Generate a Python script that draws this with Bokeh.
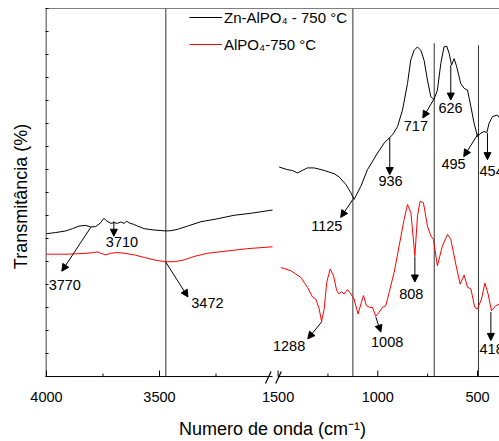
import numpy as np
from bokeh.plotting import figure
from bokeh.models import (FixedTicker, Span, Arrow, NormalHead, Label, Legend,
                          LegendItem, Range1d)
from bokeh.embed import file_html
from bokeh.resources import INLINE

# ---------------- data ----------------
# Zn-AlPO4 - 750 C, high wavenumber window (4000-3000 cm-1)
zn_hi_wn = [4000, 3959, 3915, 3885, 3856, 3826, 3804, 3782, 3760, 3746, 3733, 3715, 3701, 3686,
            3671, 3657, 3645, 3630, 3615, 3597, 3568, 3524, 3472, 3450, 3420, 3376, 3317, 3243,
            3170, 3094, 3000]
zn_hi_t = [6.21, 6.26, 6.33, 6.43, 6.54, 6.57, 6.50, 6.52, 6.69, 6.88, 6.76, 6.66, 6.69, 6.66,
           6.72, 6.66, 6.75, 6.66, 6.62, 6.54, 6.43, 6.37, 6.33, 6.34, 6.40, 6.54, 6.73, 6.86,
           7.01, 7.10, 7.24]
# Zn-AlPO4 - 750 C, low wavenumber window (1500-390 cm-1)
zn_lo_wn = [1495, 1453, 1428, 1403, 1378, 1353, 1319, 1269, 1219, 1194, 1160, 1135, 1119, 1085,
            1052, 1001, 968, 943, 926, 901, 876, 851, 835, 818, 801, 784, 768, 751, 734, 718,
            701, 684, 668, 654, 642, 630, 617, 604, 584, 567, 550, 533, 517, 500, 483, 467,
            453, 442, 425, 400, 388]
zn_lo_t = [9.11, 8.99, 8.96, 8.85, 8.96, 9.07, 9.07, 8.96, 8.82, 8.68, 8.35, 7.99, 7.70, 8.27,
           8.99, 9.72, 10.15, 10.37, 10.51, 10.87, 11.59, 12.74, 13.75, 14.18, 14.33, 14.18,
           13.75, 12.89, 12.16, 12.05, 12.45, 13.61, 14.33, 14.36, 14.04, 13.54, 13.82, 13.46,
           12.74, 12.53, 12.45, 11.73, 11.01, 10.43, 10.58, 10.65, 10.61, 11.01, 11.30, 11.37,
           11.23]
# AlPO4 - 750 C
al_hi_wn = [4000, 3907, 3834, 3789, 3774, 3760, 3738, 3716, 3686, 3657, 3612, 3568, 3524, 3472,
            3435, 3391, 3347, 3288, 3199, 3111, 3000]
al_hi_t = [5.32, 5.32, 5.35, 5.39, 5.42, 5.36, 5.29, 5.36, 5.39, 5.36, 5.29, 5.18, 5.07, 4.99,
           4.99, 5.07, 5.22, 5.36, 5.46, 5.56, 5.64]
al_lo_wn = [1486, 1436, 1386, 1353, 1327, 1311, 1294, 1282, 1269, 1256, 1239, 1222, 1206, 1194,
            1182, 1169, 1152, 1135, 1119, 1099, 1082, 1072, 1057, 1042, 1027, 1010, 993, 976,
            960, 943, 918, 893, 868, 851, 834, 814, 801, 788, 771, 751, 734, 721, 701, 676,
            650, 634, 609, 587, 567, 550, 533, 514, 500, 480, 463, 447, 430, 408, 388]
al_lo_t = [4.74, 4.60, 4.31, 3.88, 3.45, 3.37, 2.94, 2.39, 2.94, 4.10, 4.67, 4.38, 3.73, 3.59,
           3.69, 3.59, 3.78, 3.59, 3.37, 2.72, 3.23, 3.52, 3.08, 3.01, 3.01, 2.62, 2.80, 3.01,
           3.08, 3.66, 4.53, 5.68, 6.83, 7.48, 7.12, 5.25, 6.98, 7.62, 7.55, 6.54, 6.11, 5.97,
           4.81, 5.68, 6.18, 5.97, 4.89, 4.02, 4.41, 3.88, 3.81, 3.01, 2.94, 3.37, 4.06, 3.59,
           2.87, 3.08, 3.16]

# axis ticks
major_ticks_wn = [4000, 3500, 1500, 1000, 500]
major_tick_labels = ["4000", "3500", "1500", "1000", "500"]
minor_ticks_wn = [3750, 3250, 1250, 750]
y_ticks = list(range(0, 17))

# reference lines (wavenumber, top of line)
ref_lines_wn = [3472, 1125, 717, 495]
ref_lines_top = [16.0, 16.0, 14.49, 14.40]

# peak annotations
peak_labels = ["3770", "3710", "3472", "1125", "936", "717", "626", "495", "454", "808",
               "1288", "1008", "418"]
arrow_start_wn = [3804, 3702, 3472, 1125, 940, 719, 634, 494, 450, 814, 1281, 1010, 433]
arrow_start_t = [6.49, 6.75, 4.97, 7.70, 10.38, 12.06, 13.54, 10.59, 10.58, 5.23, 2.38, 2.59, 2.80]
arrow_end_wn = [3932, 3702, 3374, 1186, 940, 774, 634, 569, 450, 814, 1351, 985, 433]
arrow_end_t = [4.58, 6.10, 3.46, 6.92, 8.78, 11.24, 12.02, 9.56, 9.43, 4.11, 1.64, 1.93, 1.57]
label_wn = [3919, 3666, 3288, 1256, 936, 809, 635, 620, 429, 832, 1445, 953, 429]
label_t = [3.98, 5.84, 3.20, 6.56, 8.48, 10.90, 11.66, 9.25, 8.92, 3.59, 1.32, 1.50, 1.21]

# ---------------- broken-axis mapping ----------------
SEG1 = (4000, 3000)
SEG2_START = 1500
K1 = 0.226     # axis units per cm-1, first window
K2 = 0.1994    # axis units per cm-1, second window
GAP = 5.6
U_MIN, U_MAX = -1.0, 453.0
Y_MIN, Y_MAX = -0.346, 16.0     # a little room below the axis for the break marks
MAJ_LEN, MIN_LEN = 0.26, 0.13   # tick lengths (y units)


def to_u(w):
    w = np.asarray(w, dtype=float)
    u1 = (SEG1[0] - w) * K1
    u2 = (SEG1[0] - SEG1[1]) * K1 + GAP + (SEG2_START - w) * K2
    return np.where(w >= 2000, u1, u2)


def u1(w):
    return round(float(to_u(w)), 3)


FONT = "Liberation Sans"
INK = "black"

p = figure(width=499, height=441, output_backend="svg", toolbar_location=None,
           x_range=Range1d(U_MIN, U_MAX), y_range=Range1d(Y_MIN, Y_MAX),
           min_border_left=45, min_border_right=0, min_border_top=8, min_border_bottom=55)
p.background_fill_color = "white"
p.border_fill_color = "white"
p.outline_line_color = None
p.grid.visible = False

# x axis: only labels + title (ticks and line drawn inside the frame below)
maj = [u1(w) for w in major_ticks_wn]
mnr = [u1(w) for w in minor_ticks_wn]
xa = p.xaxis[0]
xa.ticker = FixedTicker(ticks=maj, minor_ticks=mnr)
xa.major_label_overrides = {t: s for t, s in zip(maj, major_tick_labels)}
xa.axis_line_color = None
xa.major_tick_line_color = None
xa.minor_tick_line_color = None
xa.major_label_text_font = FONT
xa.major_label_text_font_size = "14.5px"
xa.major_label_text_color = INK
xa.major_label_standoff = 1
xa.axis_label = "Numero de onda (cm⁻¹)"
xa.axis_label_text_font = FONT
xa.axis_label_text_font_size = "18px"
xa.axis_label_text_font_style = "normal"
xa.axis_label_text_color = INK
xa.axis_label_standoff = 14

# y axis: unlabelled inward ticks + title
ya = p.yaxis[0]
ya.ticker = FixedTicker(ticks=[], minor_ticks=y_ticks)
ya.minor_tick_in = 3
ya.minor_tick_out = 0
ya.minor_tick_line_color = INK
ya.major_tick_line_color = None
ya.axis_line_color = None
ya.axis_label = "Transmitância (%)"
ya.axis_label_text_font = FONT
ya.axis_label_text_font_size = "18px"
ya.axis_label_text_font_style = "normal"
ya.axis_label_text_color = INK
ya.axis_label_standoff = 15

# frame lines: left spine, top border, bottom axis (two pieces), break marks
p.segment(x0=[-0.5], y0=[0], x1=[-0.5], y1=[Y_MAX], line_color=INK, line_width=1)
p.add_layout(Span(location=Y_MAX, dimension="width", line_color=INK, line_width=1))
p.segment(x0=[u1(SEG1[0]), u1(SEG2_START)], y0=[0, 0], x1=[u1(SEG1[1]), U_MAX], y1=[0, 0],
          line_color=INK, line_width=1)
brk0 = u1(SEG1[1]) - 7.0
p.segment(x0=[brk0, brk0 + 10.2], y0=[-0.30, -0.30], x1=[brk0 + 5.6, brk0 + 15.8],
          y1=[0.22, 0.22], line_color=INK, line_width=1.2)

# x ticks (inward)
p.segment(x0=maj, y0=[0] * len(maj), x1=maj, y1=[MAJ_LEN] * len(maj),
          line_color=INK, line_width=1)
p.segment(x0=mnr, y0=[0] * len(mnr), x1=mnr, y1=[MIN_LEN] * len(mnr),
          line_color=INK, line_width=1)

# reference vertical lines
p.segment(x0=to_u(ref_lines_wn), y0=[0] * len(ref_lines_wn), x1=to_u(ref_lines_wn),
          y1=ref_lines_top, line_color="#333333", line_width=1)

# spectra
r_zn1 = p.line(to_u(zn_hi_wn), zn_hi_t, line_color="black", line_width=1)
r_zn2 = p.line(to_u(zn_lo_wn), zn_lo_t, line_color="black", line_width=1)
r_al1 = p.line(to_u(al_hi_wn), al_hi_t, line_color="#ff0000", line_width=1)
r_al2 = p.line(to_u(al_lo_wn), al_lo_t, line_color="#ff0000", line_width=1)

# peak arrows and labels
for txt, xs, ys, xe, ye, xl, yl in zip(peak_labels, arrow_start_wn, arrow_start_t,
                                       arrow_end_wn, arrow_end_t, label_wn, label_t):
    p.add_layout(Arrow(x_start=u1(xs), y_start=ys, x_end=u1(xe), y_end=ye,
                       line_color=INK, line_width=1,
                       end=NormalHead(size=7, fill_color=INK, line_color=INK,
                                      line_width=1)))
    p.add_layout(Label(x=u1(xl), y=yl, text=txt, text_align="center",
                       text_baseline="middle", text_font=FONT, text_font_size="14.5px",
                       text_color=INK))

legend = Legend(items=[LegendItem(label="Zn-AlPO₄ - 750 °C", renderers=[r_zn1]),
                       LegendItem(label="AlPO₄-750 °C", renderers=[r_al1])],
                location=(144, 330), padding=0, margin=0, spacing=7,
                glyph_width=33, glyph_height=20, label_height=20, label_standoff=2,
                label_text_font=FONT, label_text_font_size="15px",
                label_text_color=INK,
                border_line_alpha=0, background_fill_alpha=0)
p.add_layout(legend)

open("out.html", "w").write(file_html(p, INLINE))
